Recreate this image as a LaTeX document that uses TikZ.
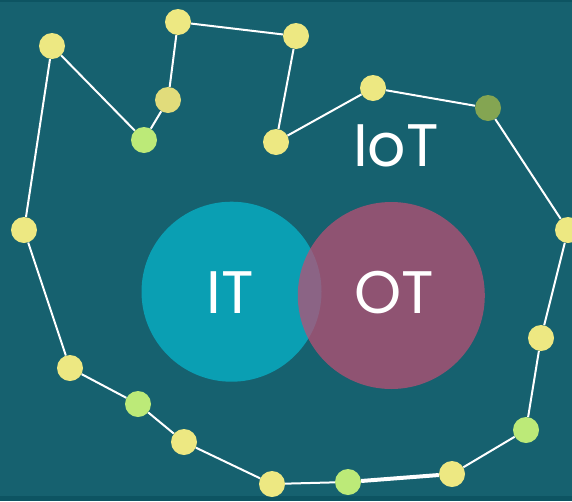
\documentclass[tikz,border=0pt]{standalone}
\usepackage{fontspec}
\setmainfont{Poppins}
\definecolor{bgteal}{HTML}{16616F}
\definecolor{rimteal}{HTML}{0D5462}
\definecolor{dotyellow}{HTML}{EDE882}
\definecolor{dotlime}{HTML}{BCEA78}
\definecolor{dotolive}{HTML}{84A552}
\definecolor{itcyan}{HTML}{0A9FB3}
\definecolor{otplum}{RGB}{188,79,116}
\tikzset{
    link/.style={draw=white, line width=2pt},
    device/.style={circle, inner sep=0pt, minimum size=26pt, fill=#1},
    device/.default=dotyellow,
    sphere/.style={circle, inner sep=0pt, text=white, text opacity=1,
        font=\fontsize{60}{60}\selectfont}
}

\begin{document}
\begin{tikzpicture}[x=1pt, y=-1pt]
    % Background panel with darker rim
    \useasboundingbox (0,0) rectangle (572,501);
    \clip (0,0) rectangle (572,501);
    \fill[rimteal] (0,0) rectangle (572,501);
    \fill[bgteal] (0,2) rectangle (572,496);
    % IT and OT overlap
    \node[sphere, minimum size=180pt, fill=itcyan] (it) at (231.5,291.7) {};
    \node[sphere, minimum size=187pt, fill=otplum, fill opacity=0.73] (ot) at (391.3,295.5) {};
    \node[sphere] (itlabel) at (230.5,293) {IT};
    \node[sphere] (otlabel) at (394.5,293) {OT};
    \node[sphere] (iot) at (396,146) {IoT};
    % Devices around the ring
    \node[device] (d1) at (52,46) {};
    \node[device=dotlime] (d2) at (144,140) {};
    \node[device=dotyellow!95!black] (d3) at (168,100) {};
    \node[device] (d4) at (178,22) {};
    \node[device] (d5) at (296,36) {};
    \node[device] (d6) at (276,142) {};
    \node[device] (d7) at (373,88) {};
    \node[device=dotolive] (d8) at (488,108) {};
    \node[device] (d9) at (568,230) {};
    \node[device] (d10) at (541,338) {};
    \node[device=dotlime] (d11) at (526,430) {};
    \node[device] (d12) at (452,474) {};
    \node[device=dotlime] (d13) at (348,482) {};
    \node[device] (d14) at (272,484) {};
    \node[device] (d15) at (184,442) {};
    \node[device=dotlime] (d16) at (138,404) {};
    \node[device] (d17) at (70,368) {};
    \node[device] (d18) at (24,230) {};
    % Links between neighbours
    \draw[link] (d18) -- (d1);
    \draw[link] (d1) -- (d2);
    \draw[link] (d2) -- (d3);
    \draw[link] (d3) -- (d4);
    \draw[link] (d4) -- (d5);
    \draw[link] (d5) -- (d6);
    \draw[link] (d6) -- (d7);
    \draw[link] (d7) -- (d8);
    \draw[link] (d8) -- (d9);
    \draw[link] (d9) -- (d10);
    \draw[link] (d10) -- (d11);
    \draw[link] (d11) -- (d12);
    \draw[link, line width=4pt] (d12) -- (d13);
    \draw[link] (d13) -- (d14);
    \draw[link] (d14) -- (d15);
    \draw[link] (d15) -- (d16);
    \draw[link] (d16) -- (d17);
    \draw[link] (d17) -- (d18);
\end{tikzpicture}
\end{document}
